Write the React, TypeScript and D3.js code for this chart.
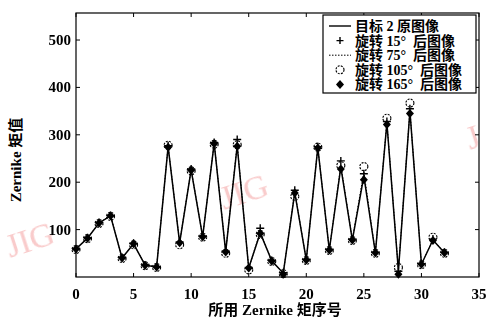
import React from "react";
import * as d3 from "d3";

// Zernike moment index 0..32
const orders = d3.range(0, 33);

const original = [59, 82, 114, 129, 40, 70, 25, 21, 275, 72, 226, 85, 282, 53, 277, 19, 93, 34, 8, 178, 36, 273, 57, 232, 78, 213, 51, 325, 13, 350, 27, 78, 51];
const rot15 = [59, 83, 115, 129, 41, 71, 25, 21, 277, 74, 228, 86, 284, 55, 290, 20, 103, 35, 9, 183, 37, 275, 58, 245, 80, 218, 52, 328, 12, 355, 28, 80, 52];
const rot75 = [60, 82, 114, 130, 40, 70, 26, 22, 276, 73, 227, 85, 283, 54, 280, 19, 95, 34, 8, 180, 36, 274, 57, 236, 79, 222, 51, 327, 14, 352, 27, 79, 51];
const rot105 = [58, 81, 113, 128, 39, 68, 24, 20, 278, 68, 224, 84, 280, 50, 279, 15, 90, 33, 7, 170, 35, 274, 56, 235, 77, 233, 50, 335, 20, 367, 26, 84, 50];
const rot165 = [59, 82, 114, 129, 40, 70, 25, 21, 274, 72, 225, 85, 281, 53, 276, 19, 92, 34, 6, 177, 36, 272, 57, 228, 78, 205, 51, 322, 6, 345, 27, 77, 51];

const xTicks = [0, 5, 10, 15, 20, 25, 30, 35];
const yTicks = [100, 200, 300, 400, 500];

const legendLabels = ["目标 2 原图像", "旋转 15°  后图像", "旋转 75°  后图像", "旋转 105°  后图像", "旋转 165°  后图像"];

const W = 488;
const H = 322;
const m = { left: 76, right: 9, top: 13, bottom: 45 };

const font = "'Liberation Serif', 'Noto Sans CJK SC', serif";

export default function App() {
  const x = d3.scaleLinear().domain([0, 35]).range([m.left, W - m.right]);
  const y = d3.scaleLinear().domain([0, 557]).range([H - m.bottom, m.top]);

  const line = d3
    .line<number>()
    .x((_, i) => x(orders[i]))
    .y((d) => y(d));

  const plusMark = (cx: number, cy: number, s: number, key: any) => (
    <path key={key} d={`M${cx - s},${cy}H${cx + s}M${cx},${cy - s}V${cy + s}`} stroke="#000" strokeWidth={1.4} fill="none" />
  );
  const circleMark = (cx: number, cy: number, key: any) => (
    <circle key={key} cx={cx} cy={cy} r={4} fill="none" stroke="#000" strokeWidth={1.1} strokeDasharray="2,1.2" />
  );
  const diamondMark = (cx: number, cy: number, key: any) => (
    <path key={key} d={`M${cx},${cy - 4.5}L${cx + 4},${cy}L${cx},${cy + 4.5}L${cx - 4},${cy}Z`} fill="#000" />
  );

  const x0 = m.left;
  const x1 = W - m.right;
  const y0 = H - m.bottom;
  const y1 = m.top;

  // legend
  const lgX = 323;
  const lgY = 15;
  const lgW = 153;
  const lgH = 78;
  const rowY = (i: number) => lgY + 11 + i * 14.6;

  return (
    <svg width={W} height={H} style={{ position: "absolute", left: 0, top: 0, background: "#fff" }}>
      {/* watermarks */}
      <g fill="#f4a0a0" opacity={0.55} fontFamily={font} fontSize={34}>
        <text transform="translate(10,258) rotate(-18)">JIG</text>
        <text transform="translate(224,210) rotate(-18)">JIG</text>
        <text transform="translate(470,150) rotate(-18)">J</text>
      </g>

      {/* frame */}
      <rect x={x0} y={y1} width={x1 - x0} height={y0 - y1} fill="none" stroke="#000" strokeWidth={1.2} />

      {/* x ticks */}
      {xTicks.map((t) => (
        <g key={"x" + t}>
          <line x1={x(t)} x2={x(t)} y1={y0} y2={y0 - 4} stroke="#000" />
          <line x1={x(t)} x2={x(t)} y1={y1} y2={y1 + 4} stroke="#000" />
          <text x={x(t)} y={y0 + 22} textAnchor="middle" fontFamily={font} fontWeight="bold" fontSize={15}>
            {t}
          </text>
        </g>
      ))}

      {/* y ticks */}
      {yTicks.map((t) => (
        <g key={"y" + t}>
          <line x1={x0} x2={x0 + 4} y1={y(t)} y2={y(t)} stroke="#000" />
          <line x1={x1} x2={x1 - 4} y1={y(t)} y2={y(t)} stroke="#000" />
          <text x={x0 - 5} y={y(t) + 5} textAnchor="end" fontFamily={font} fontWeight="bold" fontSize={15}>
            {t}
          </text>
        </g>
      ))}

      {/* axis titles */}
      <text x={275} y={315} textAnchor="middle" fontFamily={font} fontWeight="bold" fontSize={15}>
        所用 Zernike 矩序号
      </text>
      <text transform={`translate(21,160) rotate(-90)`} textAnchor="middle" fontFamily={font} fontWeight="bold" fontSize={15}>
        Zernike 矩值
      </text>

      {/* series */}
      <path d={line(original) || ""} fill="none" stroke="#000" strokeWidth={1.5} />
      <path d={line(rot75) || ""} fill="none" stroke="#000" strokeWidth={1} strokeDasharray="1.5,1.5" />
      {rot15.map((v, i) => plusMark(x(orders[i]), y(v), 4, "p" + i))}
      {rot105.map((v, i) => circleMark(x(orders[i]), y(v), "c" + i))}
      {rot165.map((v, i) => diamondMark(x(orders[i]), y(v), "d" + i))}

      {/* legend */}
      <rect x={lgX} y={lgY} width={lgW} height={lgH} fill="#fff" stroke="#000" strokeWidth={1.2} />
      {legendLabels.map((lab, i) => {
        const ry = rowY(i);
        const sx = lgX + 17;
        let sym: React.ReactNode = null;
        if (i === 0) sym = <line x1={sx - 11} x2={sx + 11} y1={ry} y2={ry} stroke="#000" strokeWidth={1.4} />;
        if (i === 1) sym = plusMark(sx, ry, 3.5, "lp");
        if (i === 2) sym = <line x1={sx - 11} x2={sx + 11} y1={ry} y2={ry} stroke="#000" strokeWidth={1} strokeDasharray="1.5,1.5" />;
        if (i === 3) sym = circleMark(sx, ry, "lc");
        if (i === 4) sym = diamondMark(sx, ry, "ld");
        return (
          <g key={"lg" + i}>
            {sym}
            <text x={lgX + 32} y={ry + 5} fontFamily={font} fontWeight="bold" fontSize={14} style={{ whiteSpace: "pre" }}>
              {lab}
            </text>
          </g>
        );
      })}
    </svg>
  );
}
